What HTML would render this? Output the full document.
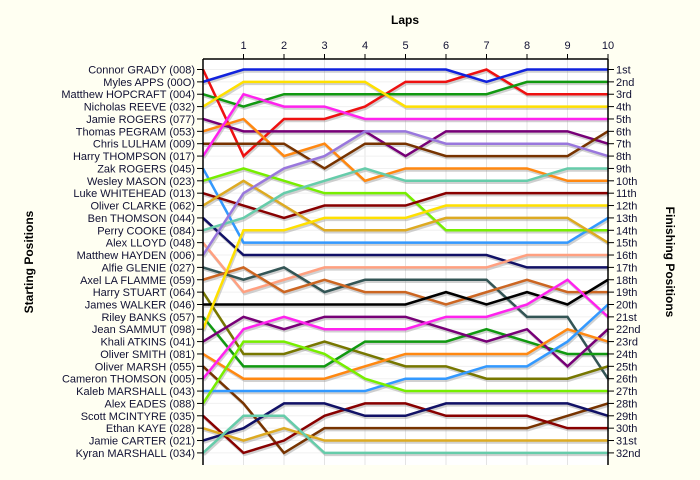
<!DOCTYPE html>
<html><head><meta charset="utf-8"><style>
html,body{margin:0;padding:0;background:#fffff2;}
svg{display:block;font-family:"Liberation Sans",sans-serif;}
</style></head><body>
<svg id="chart" width="700" height="480" viewBox="0 0 700 480" xmlns="http://www.w3.org/2000/svg">
<rect x="0" y="0" width="700" height="480" fill="#fffff2"/>
<rect x="203" y="59" width="405" height="406" fill="#ffffff"/>
<g id="grid"></g><g id="series"></g><g id="axes"></g>
<text x="405" y="24" text-anchor="middle" font-size="12" font-weight="bold" fill="#000">Laps</text>
<text transform="translate(33,262) rotate(-90)" text-anchor="middle" font-size="12" font-weight="bold" fill="#000">Starting Positions</text>
<text transform="translate(666,262) rotate(90)" text-anchor="middle" font-size="12" font-weight="bold" fill="#000">Finishing Positions</text>
</svg>
<script>
const laps = [0,1,2,3,4,5,6,7,8,9,10];
const drivers = ["Connor GRADY (008)","Myles APPS (00O)","Matthew HOPCRAFT (004)","Nicholas REEVE (032)","Jamie ROGERS (077)","Thomas PEGRAM (053)","Chris LULHAM (009)","Harry THOMPSON (017)","Zak ROGERS (045)","Wesley MASON (023)","Luke WHITEHEAD (013)","Oliver CLARKE (062)","Ben THOMSON (044)","Perry COOKE (084)","Alex LLOYD (048)","Matthew HAYDEN (006)","Alfie GLENIE (027)","Axel LA FLAMME (059)","Harry STUART (064)","James WALKER (046)","Riley BANKS (057)","Jean SAMMUT (098)","Khali ATKINS (041)","Oliver SMITH (081)","Oliver MARSH (055)","Cameron THOMSON (005)","Kaleb MARSHALL (043)","Alex EADES (088)","Scott MCINTYRE (035)","Ethan KAYE (028)","Jamie CARTER (021)","Kyran MARSHALL (034)"];
const finishLabels = ["1st","2nd","3rd","4th","5th","6th","7th","8th","9th","10th","11th","12th","13th","14th","15th","16th","17th","18th","19th","20th","21st","22nd","23rd","24th","25th","26th","27th","28th","29th","30th","31st","32nd"];
const colors = ["#ee1111","#1122dd","#119911","#ffe000","#770077","#ff8811","#773300","#ff22ee","#3399ff","#77ee00","#880000","#ddaa22","#111166","#66ccaa","#ffa080","#9977dd","#335555","#cc6622","#777700","#000000","#119911","#ffe000","#770077","#ff8811","#773300","#ff22ee","#3399ff","#77ee00","#880000","#ddaa22","#111166","#66ccaa"];
const p01 = [1,8,5,5,4,2,2,1,3,3,3];
const p02 = [2,1,1,1,1,1,1,2,1,1,1];
const p03 = [3,4,3,3,3,3,3,3,2,2,2];
const p04 = [4,2,2,2,2,4,4,4,4,4,4];
const p05 = [5,6,6,6,6,8,6,6,6,6,7];
const p06 = [6,5,8,7,10,9,9,9,9,10,10];
const p07 = [7,7,7,9,7,7,8,8,8,8,6];
const p08 = [8,3,4,4,5,5,5,5,5,5,5];
const p09 = [9,15,15,15,15,15,15,15,15,15,13];
const p10 = [10,9,10,11,11,11,14,14,14,14,14];
const p11 = [11,12,13,12,12,12,11,11,11,11,11];
const p12 = [12,10,12,14,14,14,13,13,13,13,15];
const p13 = [13,16,16,16,16,16,16,16,17,17,17];
const p14 = [14,13,11,10,9,10,10,10,10,9,9];
const p15 = [15,19,18,17,17,17,17,17,16,16,16];
const p16 = [16,11,9,8,6,6,7,7,7,7,8];
const p17 = [17,18,17,19,18,18,18,18,21,21,26];
const p18 = [18,17,19,18,19,19,20,19,18,19,19];
const p19 = [19,24,24,23,24,25,25,26,26,26,25];
const p20 = [20,20,20,20,20,20,19,20,19,20,18];
const p21 = [21,25,25,25,23,23,23,22,23,24,24];
const p22 = [22,14,14,13,13,13,12,12,12,12,12];
const p23 = [23,21,22,21,21,21,22,23,22,25,22];
const p24 = [24,26,26,26,25,24,24,24,24,22,23];
const p25 = [25,28,32,30,30,30,30,30,30,29,28];
const p26 = [26,22,21,22,22,22,21,21,20,18,21];
const p27 = [27,27,27,27,27,26,26,25,25,23,20];
const p28 = [28,23,23,24,26,27,27,27,27,27,27];
const p29 = [29,32,31,29,28,28,29,29,29,30,30];
const p30 = [30,31,30,31,31,31,31,31,31,31,31];
const p31 = [31,30,28,28,29,29,28,28,28,28,29];
const p32 = [32,29,29,32,32,32,32,32,32,32,32];
const series = [p01,p02,p03,p04,p05,p06,p07,p08,p09,p10,p11,p12,p13,p14,p15,p16,p17,p18,p19,p20,p21,p22,p23,p24,p25,p26,p27,p28,p29,p30,p31,p32];

const NS="http://www.w3.org/2000/svg";
const X0=203, X1=608, Y1=69.5, Y32=452.9;
const x = l => X0 + (X1-X0)*l/10;
const y = p => Y1 + (Y32-Y1)*(p-1)/31;
function mk(tag, attrs, parent){const e=document.createElementNS(NS,tag);for(const k in attrs)e.setAttribute(k,attrs[k]);parent.appendChild(e);return e;}
const grid=document.getElementById('grid'), sg=document.getElementById('series'), ax=document.getElementById('axes');
laps.forEach(l=>{
  const g=mk('line',{x1:x(l),x2:x(l),y1:59,y2:465,stroke:'#e4e4e4','stroke-width':1},grid);
  
  
});
finishLabels.forEach((f,i)=>{
  const g=mk('line',{x1:X0,x2:X1,y1:y(i+1),y2:y(i+1),stroke:'#f0f0f0','stroke-width':1},grid);
  
  
});
series.forEach((s,i)=>{
  const pts=s.map((p,l)=>x(laps[l])+','+y(p)).join(' ');
  const sh=mk('polyline',{points:s.map((p,l)=>(x(laps[l])+1)+','+(y(p)+2)).join(' '),fill:'none',stroke:'#999','stroke-opacity':0.45,'stroke-width':2.5,'stroke-linejoin':'round'},sg);
  
  
});
series.forEach((s,i)=>{
  const pts=s.map((p,l)=>x(laps[l])+','+y(p)).join(' ');
  const pl=mk('polyline',{points:pts,fill:'none',stroke:colors[i],'stroke-width':2.5,'stroke-linejoin':'miter'},sg);
  
  
});
const axc='#000';
mk('line',{x1:X0,x2:X1,y1:59,y2:59,stroke:axc,'stroke-width':1.5},ax);
mk('line',{x1:X0,x2:X0,y1:59,y2:465,stroke:axc,'stroke-width':1.5},ax);
mk('line',{x1:X1,x2:X1,y1:59,y2:465,stroke:axc,'stroke-width':1.5},ax);
laps.forEach(l=>{
  if(l===0) return;
  const t=mk('line',{x1:x(l),x2:x(l),y1:54,y2:59,stroke:axc},ax);
  
  
  const tx=mk('text',{x:x(l),y:49,'text-anchor':'middle','font-size':11,fill:'#111133'},ax);
  tx.textContent=l;
  
  
});
drivers.forEach((d,i)=>{
  const t=mk('line',{x1:X0-6,x2:X0,y1:y(i+1),y2:y(i+1),stroke:axc},ax);
  
  
  const tx=mk('text',{x:X0-8,y:y(i+1)+4,'text-anchor':'end','font-size':11,fill:'#111133'},ax);
  tx.textContent=d;
  
  
});
finishLabels.forEach((f,i)=>{
  const t=mk('line',{x1:X1,x2:X1+6,y1:y(i+1),y2:y(i+1),stroke:axc},ax);
  
  
  const tx=mk('text',{x:X1+8,y:y(i+1)+4,'text-anchor':'start','font-size':11,fill:'#111133'},ax);
  tx.textContent=f;
  
  
});
</script>
</body></html>
